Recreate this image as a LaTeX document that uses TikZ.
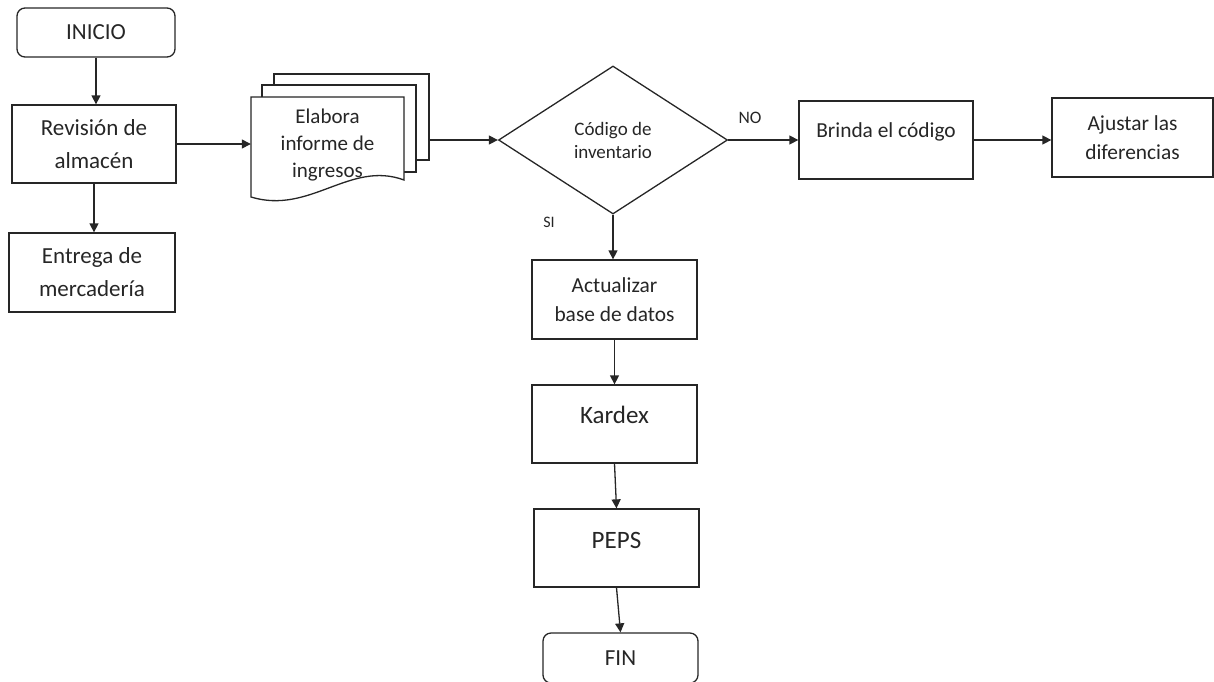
\documentclass[tikz,border=0pt]{standalone}
\usepackage{fontspec}
\setmainfont{Carlito}
\usetikzlibrary{shapes.geometric,arrows.meta}
\begin{document}
\begin{tikzpicture}[x=1pt,y=-1pt,
  box/.style={draw=black!85, line width=1.3pt, inner sep=0pt, align=center, text=black!85},
  term/.style={box, rounded corners=8pt},
  arr/.style={draw=black!85, line width=1.3pt, -{Triangle[length=9pt,width=9pt]}},
  fA/.style={font=\fontsize{23}{33}\selectfont},
  fK/.style={font=\fontsize{25}{30}\selectfont},
  fB/.style={font=\fontsize{21.4}{29}\selectfont},
  fC/.style={font=\fontsize{21}{27}\selectfont},
  fD/.style={font=\fontsize{19}{23}\selectfont},
  lbl/.style={text=black!85, inner sep=0pt}
]
\useasboundingbox (0,0) rectangle (1214,681);
\clip (0,0) rectangle (1214,681);

% left column
\node[term, minimum width=158pt, minimum height=49pt, fA] (ini) at (96,32.5) {INICIO};
\node[box, minimum width=164pt, minimum height=78pt, fA] (rev) at (94,144) {Revisión de\\almacén};
\node[box, minimum width=166pt, minimum height=79pt, fA] (ent) at (92,272.5) {Entrega de\\mercadería};

% multi-document
\node[box, minimum width=155pt, minimum height=86pt] (p3) at (351.5,117) {};
\node[box, fill=white, minimum width=154pt, minimum height=87pt] (p2) at (339,128.5) {};
\draw[line width=1.3pt, draw=black!85, fill=white] (251,97) -- (404,97) -- (404,180)
  .. controls (350,160) and (310,215) .. (251,197) -- cycle;
\node[lbl, align=center, minimum width=153pt, minimum height=96pt, fC] (elab) at (327.5,145) {Elabora\\informe de\\ingresos};

% decision
\node[box, diamond, aspect=1.55, minimum width=229pt, minimum height=148pt, fD] (dia) at (613,140) {Código de\\inventario};

% right branch
\node[box, minimum width=174pt, minimum height=78pt,
      label={[lbl, fB, yshift=8pt]center:Brinda el código}] (brinda) at (886,140) {};
\node[box, minimum width=161pt, minimum height=79pt, fB] (aj) at (1132.5,137.5) {Ajustar las\\diferencias};

% lower column
\node[box, minimum width=165pt, minimum height=79pt, fB] (act) at (614.5,299.5) {Actualizar\\base de datos};
\node[box, minimum width=165pt, minimum height=78pt,
      label={[lbl, fK, yshift=9pt]center:Kardex}] (kar) at (614.5,424) {};
\node[box, minimum width=165pt, minimum height=78pt,
      label={[lbl, fK, yshift=8pt]center:PEPS}] (peps) at (616.5,548) {};
\node[term, minimum width=155pt, minimum height=50pt, fA] (fin) at (620.5,658) {FIN};

% labels
\node[lbl, font=\fontsize{17.5}{20}\selectfont] (no) at (750,118) {NO};
\node[lbl, font=\fontsize{16}{18}\selectfont] (si) at (549,222) {SI};

% connectors
\draw[arr] (ini.south) -- (ini.south |- rev.north);
\draw[arr] (rev.south) -- (rev.south |- ent.north);
\draw[arr] (rev.east) -- (rev.east -| elab.west);
\draw[arr] (dia.west -| p3.east) -- (dia.west);
\draw[arr] (dia.east) -- (dia.east -| brinda.west);
\draw[arr] (brinda.east) -- (brinda.east -| aj.west);
\draw[arr] (dia.south) -- (dia.south |- act.north);
\draw[arr] (act.south) -- (kar.north);
\draw[arr] (kar.south) -- (peps.north);
\draw[arr] (peps.south) -- (fin.north);
\end{tikzpicture}
\end{document}
